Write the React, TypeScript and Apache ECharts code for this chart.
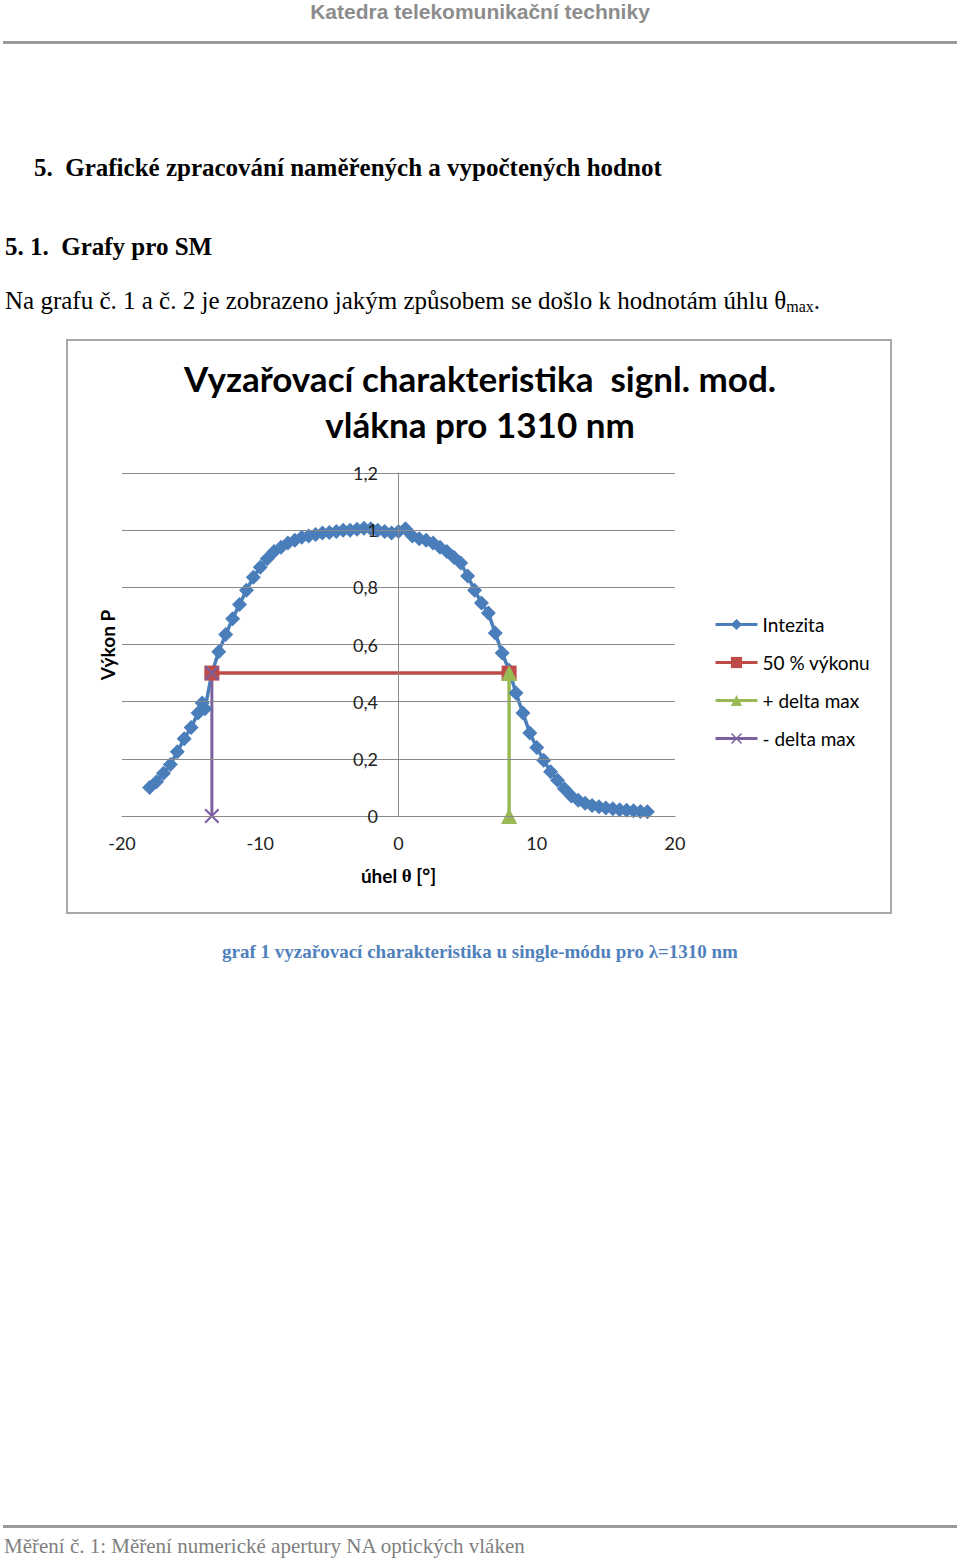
import React, { useEffect, useRef } from "react";
import * as echarts from "echarts";

// ---- data ----
const angles = [
  -18, -17.5, -17, -16.5, -16, -15.5, -15, -14.5, -14.2, -14, -13.5, -13, -12.5, -12, -11.5, -11,
  -10.5, -10, -9.5, -9, -8.5, -8, -7.5, -7, -6.5, -6, -5.5, -5, -4.5, -4, -3.5, -3, -2.5, -2,
  -1.5, -1, -0.5, 0, 0.5, 1, 1.5, 2, 2.5, 3, 3.5, 4, 4.5, 5, 5.5, 6, 6.5, 7, 7.5, 8, 8.5, 9,
  9.5, 10, 10.5, 11, 11.5, 12, 12.5, 13, 13.5, 14, 14.5, 15, 15.5, 16, 16.5, 17, 17.5, 18,
];
const intensity = [
  0.10, 0.12, 0.15, 0.18, 0.225, 0.27, 0.31, 0.36, 0.395, 0.375, 0.50, 0.575, 0.635, 0.69, 0.74, 0.79,
  0.835, 0.87, 0.90, 0.925, 0.94, 0.955, 0.965, 0.975, 0.98, 0.985, 0.99, 0.992, 0.995, 1.0, 1.0, 1.003, 1.007, 1.005,
  1.0, 0.995, 0.99, 0.995, 1.005, 0.98, 0.97, 0.965, 0.955, 0.94, 0.925, 0.905, 0.885, 0.84, 0.79, 0.745, 0.71, 0.64, 0.57, 0.51, 0.43, 0.36,
  0.29, 0.24, 0.195, 0.155, 0.125, 0.095, 0.07, 0.055, 0.045, 0.037, 0.032, 0.028, 0.025, 0.022, 0.02, 0.018, 0.016, 0.015,
];
const halfPowerX = [-13.5, 8.0];
const halfPowerY = [0.5, 0.5];
const plusDeltaX = [8.0, 8.0];
const plusDeltaY = [0, 0.5];
const minusDeltaX = [-13.5, -13.5];
const minusDeltaY = [0, 0.5];

const seriesNames = ["Intezita", "50 % výkonu", "+ delta max", "- delta max"];
const xTicks = { min: -20, max: 20, interval: 10 };
const yTicks = { min: 0, max: 1.2, interval: 0.2 };

const chartTitle = "Vyzařovací charakteristika  signl. mod.\nvlákna pro 1310 nm";
const yName = "Výkon P";

const pair = (xs: number[], ys: number[]) => xs.map((x, i) => [x, ys[i]]);

const SERIF = "'Liberation Serif', 'Times New Roman', serif";
const CAL = "Lato, 'Open Sans', sans-serif";
const CROSS = "path://M0,1 L1,0 L5,4 L9,0 L10,1 L6,5 L10,9 L9,10 L5,6 L1,10 L0,9 L4,5 Z";

export default function App() {
  const ref = useRef<HTMLDivElement>(null);
  useEffect(() => {
    const chart = echarts.init(ref.current!, null, { renderer: "svg" });
    const grid = "#8a8a8a";
    chart.setOption({
      animation: false,
      backgroundColor: "#ffffff",
      title: {
        text: chartTitle,
        left: "center",
        top: 350,
        textStyle: { fontFamily: CAL, fontWeight: "bold", fontSize: 35, lineHeight: 46, color: "#000" },
      },
      grid: { left: 122, right: 285, top: 473, bottom: 745, containLabel: false },
      legend: {
        orient: "vertical",
        left: 709,
        top: 610,
        itemWidth: 42,
        itemHeight: 14,
        itemGap: 19,
        data: seriesNames,
        lineStyle: { width: 3 },
        textStyle: { fontFamily: CAL, fontSize: 19, color: "#000" },
      },
      xAxis: {
        type: "value",
        min: xTicks.min,
        max: xTicks.max,
        interval: xTicks.interval,
        axisLine: { onZero: true, lineStyle: { color: grid } },
        axisTick: { show: false },
        splitLine: { show: false },
        axisLabel: { fontFamily: CAL, fontSize: 18, color: "#222", margin: 18 },
        name: "{a|úhel }{b|θ}{a| [°]}",
        nameLocation: "middle",
        nameGap: 50,
        nameTextStyle: {
          rich: {
            a: { fontFamily: CAL, fontWeight: "bold", fontSize: 19, color: "#000" },
            b: { fontFamily: SERIF, fontWeight: "bold", fontSize: 19, color: "#000" },
          },
        },
      },
      yAxis: {
        type: "value",
        min: yTicks.min,
        max: yTicks.max,
        interval: yTicks.interval,
        position: "left",
        offset: -276,
        z: 5,
        axisLine: { show: true, onZero: false, lineStyle: { color: grid } },
        axisTick: { show: false },
        splitLine: { show: true, lineStyle: { color: grid } },
        axisLabel: {
          fontFamily: CAL, fontSize: 18, color: "#222", margin: 20,
          formatter: (v: number) => String(Math.round(v * 10) / 10).replace(".", ","),
        },
      },
      series: [
        {
          name: seriesNames[0], type: "line", data: pair(angles, intensity),
          symbol: "diamond", symbolSize: 15,
          lineStyle: { color: "#4a7ebb", width: 3.5 },
          itemStyle: { color: "#4a7ebb" },
        },
        {
          name: seriesNames[1], type: "line", data: pair(halfPowerX, halfPowerY),
          symbol: "rect", symbolSize: 15,
          lineStyle: { color: "#be4b48", width: 3.5 },
          itemStyle: { color: "#be4b48" },
        },
        {
          name: seriesNames[2], type: "line", data: pair(plusDeltaX, plusDeltaY),
          symbol: "triangle", symbolSize: 16,
          lineStyle: { color: "#98b954", width: 3.5 },
          itemStyle: { color: "#98b954" },
        },
        {
          name: seriesNames[3], type: "line", data: pair(minusDeltaX, minusDeltaY),
          symbol: CROSS, symbolSize: 15,
          lineStyle: { color: "#7d60a0", width: 3 },
          itemStyle: { color: "#7d60a0" },
        },
      ],
      graphic: [
        {
          type: "text", x: 480, y: 11,
          style: {
            text: "Katedra telekomunikační techniky", align: "center", verticalAlign: "middle",
            font: "bold 21px 'Liberation Sans Narrow', 'Arial Narrow', 'Liberation Sans', sans-serif", fill: "#8c8c8c",
          },
        },
        { type: "rect", shape: { x: 3, y: 41, width: 954, height: 3 }, style: { fill: "#9a9a9a" } },
        {
          type: "text", x: 34, y: 167,
          style: {
            text: "5.  Grafické zpracování naměřených a vypočtených hodnot", verticalAlign: "middle",
            font: `bold 25px ${SERIF}`, fill: "#000",
          },
        },
        {
          type: "text", x: 5, y: 246,
          style: { text: "5. 1.  Grafy pro SM", verticalAlign: "middle", font: `bold 25px ${SERIF}`, fill: "#000" },
        },
        {
          type: "text", x: 5, y: 300,
          style: {
            text: "{n|Na grafu č. 1 a č. 2 je zobrazeno jakým způsobem se došlo k hodnotám úhlu θ}{s|max}{n|.}",
            verticalAlign: "middle",
            rich: {
              n: { fontFamily: SERIF, fontSize: 25, fill: "#000", lineHeight: 30 },
              s: { fontFamily: SERIF, fontSize: 16, fill: "#000", lineHeight: 30, padding: [12, 0, 0, 0] },
            },
          },
        },
        {
          type: "rect", shape: { x: 67, y: 340, width: 824, height: 573 },
          style: { fill: "none", stroke: "#a8a8a8", lineWidth: 2 }, z: -1,
        },
        {
          type: "text", x: 107, y: 645, rotation: Math.PI / 2,
          style: { text: yName, align: "center", verticalAlign: "middle", font: `bold 19px ${CAL}`, fill: "#000" },
        },
        {
          type: "text", x: 480, y: 951,
          style: {
            text: "graf 1 vyzařovací charakteristika u single-módu pro λ=1310 nm", align: "center", verticalAlign: "middle",
            font: `bold 19px ${SERIF}`, fill: "#4f81bd",
          },
        },
        { type: "rect", shape: { x: 3, y: 1525, width: 954, height: 3 }, style: { fill: "#9a9a9a" } },
        {
          type: "text", x: 4, y: 1546,
          style: {
            text: "Měření č. 1: Měření numerické apertury NA optických vláken", verticalAlign: "middle",
            font: `21px ${SERIF}`, fill: "#808080",
          },
        },
      ],
    });
    return () => chart.dispose();
  }, []);
  return (
    <div
      ref={ref}
      style={{ position: "absolute", left: 0, top: 0, width: 960, height: 1561, background: "#fff" }}
    />
  );
}
